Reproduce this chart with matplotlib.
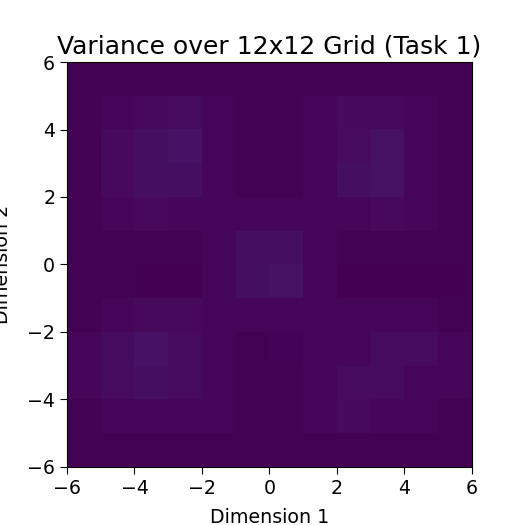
import numpy as np
import matplotlib
matplotlib.use("Agg")
import matplotlib.pyplot as plt

# variance per cell, rows listed top (y=6) to bottom (y=-6), columns x=-6..6
row_0 = [0.006, 0.006, 0.006, 0.006, 0.006, 0.006, 0.006, 0.006, 0.006, 0.004, 0.004, 0.004]
row_1 = [0.006, 0.012, 0.025, 0.031, 0.012, 0.006, 0.004, 0.012, 0.025, 0.025, 0.012, 0.004]
row_2 = [0.006, 0.025, 0.037, 0.050, 0.019, 0.006, 0.004, 0.019, 0.031, 0.044, 0.019, 0.004]
row_3 = [0.006, 0.025, 0.037, 0.037, 0.019, 0.006, 0.004, 0.019, 0.037, 0.044, 0.019, 0.004]
row_4 = [0.006, 0.019, 0.025, 0.012, 0.012, 0.019, 0.019, 0.012, 0.019, 0.025, 0.019, 0.004]
row_5 = [0.006, 0.006, 0.004, 0.004, 0.012, 0.037, 0.037, 0.012, 0.004, 0.004, 0.004, 0.004]
row_6 = [0.004, 0.004, 0.003, 0.003, 0.012, 0.037, 0.044, 0.012, 0.003, 0.003, 0.003, 0.003]
row_7 = [0.006, 0.019, 0.025, 0.025, 0.012, 0.019, 0.015, 0.012, 0.012, 0.019, 0.019, 0.006]
row_8 = [0.012, 0.031, 0.050, 0.031, 0.012, 0.004, 0.009, 0.012, 0.019, 0.031, 0.031, 0.012]
row_9 = [0.012, 0.031, 0.037, 0.031, 0.012, 0.004, 0.006, 0.019, 0.031, 0.031, 0.019, 0.012]
row_10 = [0.006, 0.012, 0.019, 0.019, 0.012, 0.006, 0.004, 0.019, 0.025, 0.019, 0.012, 0.006]
row_11 = [0.004, 0.006, 0.006, 0.004, 0.004, 0.004, 0.004, 0.006, 0.006, 0.004, 0.004, 0.004]

variance = np.array([row_0, row_1, row_2, row_3, row_4, row_5,
                     row_6, row_7, row_8, row_9, row_10, row_11])
ticks = [-6, -4, -2, 0, 2, 4, 6]

fig = plt.figure(figsize=(5.25, 5.25), dpi=100)
ax = fig.add_axes([0.1276, 0.1105, 0.7714, 0.7714])
ax.imshow(variance, cmap="viridis", vmin=0, vmax=1, origin="upper",
          extent=[-6, 6, -6, 6], interpolation="nearest")
ax.set_xticks(ticks)
ax.set_yticks(ticks)
ax.tick_params(labelsize=13.7, length=5)
ax.set_title("Variance over 12x12 Grid (Task 1)", fontsize=18, pad=6)
ax.set_xlabel("Dimension 1", fontsize=13.7, labelpad=7)
ax.set_ylabel("Dimension 2", fontsize=13.7, labelpad=11)

fig.savefig("out.png", dpi=100)
